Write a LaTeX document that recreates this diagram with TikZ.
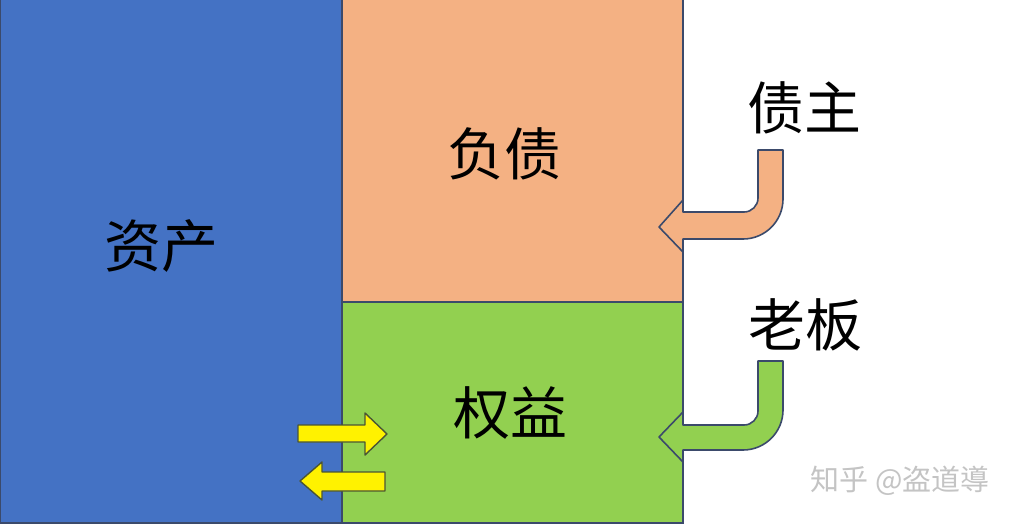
\documentclass[tikz,border=0pt]{standalone}
\usepackage{fontspec}
\newfontfamily\cjk{Noto Sans CJK SC}
\definecolor{assetblue}{HTML}{4472C4}
\definecolor{debtorange}{HTML}{F4B183}
\definecolor{eqgreen}{HTML}{92D050}
\definecolor{edge}{HTML}{3B4A6B}
\definecolor{yedge}{HTML}{4A5535}
\definecolor{wm}{HTML}{C4C4C4}
\tikzset{
  box/.style={draw=edge, line width=1.8pt},
  bigtxt/.style={font=\cjk\fontsize{57}{60}\selectfont, text=black, inner sep=0pt},
  bent/.style={draw=edge, line width=1.6pt, line join=round},
  yarrow/.style={draw=yedge, fill=yellow, line width=1.4pt, line join=round},
}
\begin{document}
\begin{tikzpicture}[x=1pt,y=-1pt]
\useasboundingbox[fill=white] (0,0) rectangle (1024,525);
% boxes
\path[box, fill=assetblue] (0,-2) rectangle (342,523);
\path[box, fill=debtorange] (342,-2) rectangle (683,302);
\path[box, fill=eqgreen] (342,302) rectangle (683,523);
% labels
\node[bigtxt] (assets) at (161,246) {资产};
\node[bigtxt] (debt) at (504,154) {负债};
\node[bigtxt] (equity) at (510,413) {权益};
\node[bigtxt] (creditor) at (804,108) {债主};
\node[bigtxt] (boss) at (805,325) {老板};
% orange bent arrow
\path[bent, fill=debtorange] (758,150) -- (758,198) arc[start angle=0,end angle=90,radius=14]
  -- (683,212) -- (683,200) -- (659,227) -- (683,252) -- (683,239) -- (743,239)
  arc[start angle=90,end angle=0,radius=40] -- (783,150) -- cycle;
% green bent arrow
\path[bent, fill=eqgreen] (758,361) -- (758,411) arc[start angle=0,end angle=90,radius=14]
  -- (683,425) -- (683,412) -- (659,437) -- (683,462) -- (683,450) -- (743,450)
  arc[start angle=90,end angle=0,radius=40] -- (783,361) -- cycle;
% yellow arrows
\path[yarrow] (298,425) -- (365,425) -- (365,413) -- (387,434) -- (365,455) -- (365,442) -- (298,442) -- cycle;
\path[yarrow] (385,472) -- (322,472) -- (322,462) -- (300,481) -- (322,500) -- (322,491) -- (385,491) -- cycle;
% watermark
\node[font=\cjk\fontsize{29}{32}\selectfont, text=wm, inner sep=0pt] (mark) at (900,481) {知乎 @盗道導};
\end{tikzpicture}
\end{document}
